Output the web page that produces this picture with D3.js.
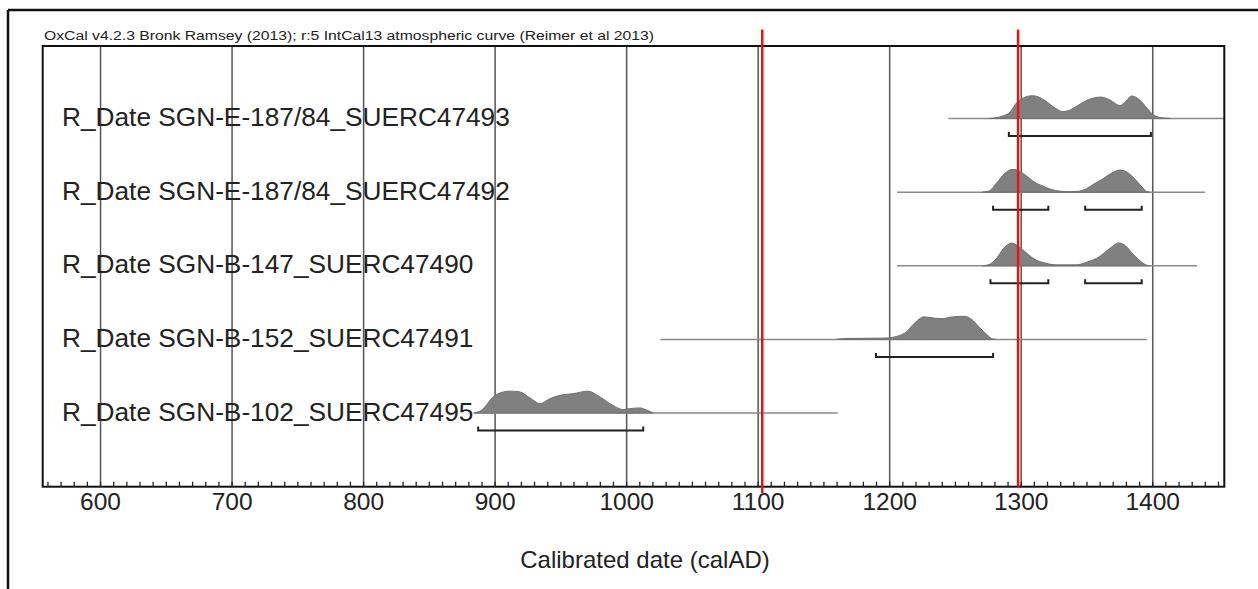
<!DOCTYPE html>
<html>
<head>
<meta charset="utf-8">
<script src="https://cdn.jsdelivr.net/npm/d3@7"></script>
<style>
  html, body { margin: 0; padding: 0; background: #fff; }
  svg { display: block; }
  text { font-family: "Liberation Sans", Arial, sans-serif; fill: #222; }
</style>
</head>
<body>
<svg id="chart" width="1258" height="589"></svg>
<script>
// ---------------- DATA ----------------
const headerText = "OxCal v4.2.3 Bronk Ramsey (2013); r:5 IntCal13 atmospheric curve (Reimer et al 2013)";
const axisTitle = "Calibrated date (calAD)";
const labels = [
  "R_Date SGN-E-187/84_SUERC47493",
  "R_Date SGN-E-187/84_SUERC47492",
  "R_Date SGN-B-147_SUERC47490",
  "R_Date SGN-B-152_SUERC47491",
  "R_Date SGN-B-102_SUERC47495"
];
const majorTicks = [600, 700, 800, 900, 1000, 1100, 1200, 1300, 1400];
const xDomain = [556.4, 1454.8];
const redLines = [1103.5, 1298];

// full extent of the grey baseline of each distribution (calAD)
const spans = [
  [1245, 1470],
  [1206, 1440],
  [1206, 1434],
  [1026, 1396],
  [885, 1161]
];

// probability distributions: [year, relative density]
const dist1 = [[1276,0],[1284,0.07],[1291.8,0.27],[1296.8,0.68],[1301.6,0.88],[1305,0.96],[1309,0.99],[1313,0.95],[1318,0.8],[1325,0.5],[1332,0.3],[1338,0.38],[1343,0.55],[1350,0.78],[1356,0.9],[1361,0.93],[1368,0.8],[1375.4,0.56],[1380,0.75],[1384.3,0.98],[1390.6,0.8],[1396,0.45],[1400,0.2],[1404,0.07],[1409,0.02],[1414,0]];
const dist2 = [[1271,0],[1276,0.05],[1281.7,0.4],[1288,0.82],[1294.3,0.99],[1300,0.88],[1304.5,0.7],[1310,0.45],[1317,0.26],[1323,0.12],[1330,0.04],[1338,0.02],[1343,0.03],[1350,0.15],[1355,0.33],[1362,0.56],[1369,0.82],[1375.4,0.96],[1380,0.9],[1385.5,0.65],[1391,0.3],[1396,0.02],[1398,0]];
const dist3 = [[1271,0],[1276,0.05],[1281.7,0.33],[1287,0.75],[1293,0.99],[1298,0.85],[1304.5,0.55],[1310,0.3],[1317,0.14],[1323,0.06],[1328,0.04],[1342,0.04],[1350,0.15],[1360,0.4],[1367,0.72],[1374.7,0.99],[1380,0.85],[1385.5,0.5],[1390,0.25],[1396,0.02],[1398,0]];
const dist4 = [[1160,0],[1168,0.04],[1190,0.05],[1198,0.06],[1208,0.17],[1213,0.32],[1218.3,0.65],[1224.6,0.95],[1226,0.98],[1233.5,0.93],[1241,0.9],[1246,0.96],[1254,1.0],[1257.6,1.0],[1262,0.9],[1269,0.5],[1274,0.22],[1279,0.01],[1281,0]];
const dist5 = [[884,0],[890,0.12],[899,0.7],[904,0.87],[911.7,0.95],[919,0.92],[927,0.65],[934.5,0.41],[942,0.62],[949.7,0.77],[959.8,0.84],[971,0.95],[980,0.7],[990,0.33],[997.8,0.15],[1002.9,0.19],[1010.5,0.22],[1015.6,0.13],[1020.6,0]];
const dists = [dist1, dist2, dist3, dist4, dist5];

// 95.4% ranges shown as brackets
const ranges = [
  [[1291, 1399]],
  [[1279, 1321], [1349, 1392]],
  [[1277, 1321], [1349, 1392]],
  [[1190, 1279]],
  [[887.5, 1013]]
];

// ---------------- LAYOUT ----------------
const plot = { left: 42.7, right: 1224.3, top: 46, bottom: 486.7 };
const svg = d3.select("#chart");

const x = d3.scaleLinear().domain(xDomain).range([plot.left, plot.right]);
const rowY = d3.scalePoint().domain(labels).range([118.5, 413]);
const h = d3.scaleLinear().domain([0, 1]).range([0, 23]);

// outer frame
svg.append("line").attr("x1", 8).attr("x2", 1258).attr("y1", 10).attr("y2", 10)
  .attr("stroke", "#111").attr("stroke-width", 2.5);
svg.append("line").attr("x1", 8).attr("x2", 8).attr("y1", 10).attr("y2", 589)
  .attr("stroke", "#111").attr("stroke-width", 2.5);

// header
const hdr = svg.append("text").attr("x", 44).attr("y", 39.5)
  .attr("font-size", 12).attr("fill", "#333").text(headerText);
hdr.attr("textLength", 610).attr("lengthAdjust", "spacingAndGlyphs");

// clip
svg.append("clipPath").attr("id", "clip").append("rect")
  .attr("x", plot.left).attr("y", plot.top)
  .attr("width", plot.right - plot.left).attr("height", plot.bottom - plot.top);

// grid lines at major ticks
svg.append("g")
  .attr("transform", `translate(0,${plot.bottom})`)
  .call(d3.axisBottom(x).tickValues(majorTicks).tickSize(-(plot.bottom - plot.top)).tickFormat(""))
  .call(g => g.select(".domain").remove())
  .call(g => g.selectAll("line").attr("stroke", "#555").attr("stroke-width", 1.5));

// labels (drawn under lines)
svg.append("g").selectAll("text").data(labels).join("text")
  .attr("transform", d => `translate(62,${rowY(d) + 7.5}) scale(1.05,1)`)
  .attr("font-size", 25)
  .text(d => d);

const g = svg.append("g").attr("clip-path", "url(#clip)");

// baselines
g.selectAll(".base").data(labels).join("line").attr("class", "base")
  .attr("x1", (d, i) => x(spans[i][0])).attr("x2", (d, i) => x(spans[i][1]))
  .attr("y1", d => rowY(d)).attr("y2", d => rowY(d))
  .attr("stroke", "#8a8a8a").attr("stroke-width", 1.5);

// distributions
dists.forEach((dist, i) => {
  const y0 = rowY(labels[i]);
  const area = d3.area().curve(d3.curveMonotoneX)
    .x(d => x(d[0])).y0(y0).y1(d => y0 - h(d[1]));
  g.append("path").datum(dist).attr("d", area)
    .attr("fill", "#808080").attr("stroke", "#707070").attr("stroke-width", 1);
});

// brackets
ranges.forEach((rs, i) => {
  const yb = rowY(labels[i]) + 17.5;
  rs.forEach(r => {
    const p = d3.path();
    p.moveTo(x(r[0]), yb - 4);
    p.lineTo(x(r[0]), yb);
    p.lineTo(x(r[1]), yb);
    p.lineTo(x(r[1]), yb - 4);
    g.append("path").attr("d", p.toString())
      .attr("fill", "none").attr("stroke", "#222").attr("stroke-width", 2);
  });
});

// plot frame
svg.append("rect").attr("x", plot.left).attr("y", plot.top)
  .attr("width", plot.right - plot.left).attr("height", plot.bottom - plot.top)
  .attr("fill", "none").attr("stroke", "#111").attr("stroke-width", 2);

// minor ticks
svg.append("g")
  .attr("transform", `translate(0,${plot.bottom})`)
  .call(d3.axisBottom(x).tickValues(d3.range(560, 1451, 10)).tickSize(-5).tickFormat(""))
  .call(g => g.select(".domain").remove())
  .call(g => g.selectAll("line").attr("stroke", "#222").attr("stroke-width", 1.3));

// major tick labels
svg.append("g")
  .attr("transform", `translate(0,${plot.bottom})`)
  .call(d3.axisBottom(x).tickValues(majorTicks).tickSize(0).tickPadding(0).tickFormat(d3.format("d")))
  .call(g => g.select(".domain").remove())
  .call(g => g.selectAll("text")
    .attr("font-family", "Liberation Sans, Arial, sans-serif")
    .attr("font-size", 24.5).attr("fill", "#222")
    .attr("dy", null).attr("y", 23.5));

// red lines
svg.selectAll(".red").data(redLines).join("line").attr("class", "red")
  .attr("x1", d => x(d)).attr("x2", d => x(d))
  .attr("y1", 29.5).attr("y2", (d, i) => i === 0 ? 493 : plot.bottom)
  .attr("stroke", "#ee1111").attr("stroke-width", 2.5);

// axis title
svg.append("text").attr("x", 645).attr("y", 568).attr("text-anchor", "middle")
  .attr("font-size", 24).text(axisTitle);
</script>
</body>
</html>
